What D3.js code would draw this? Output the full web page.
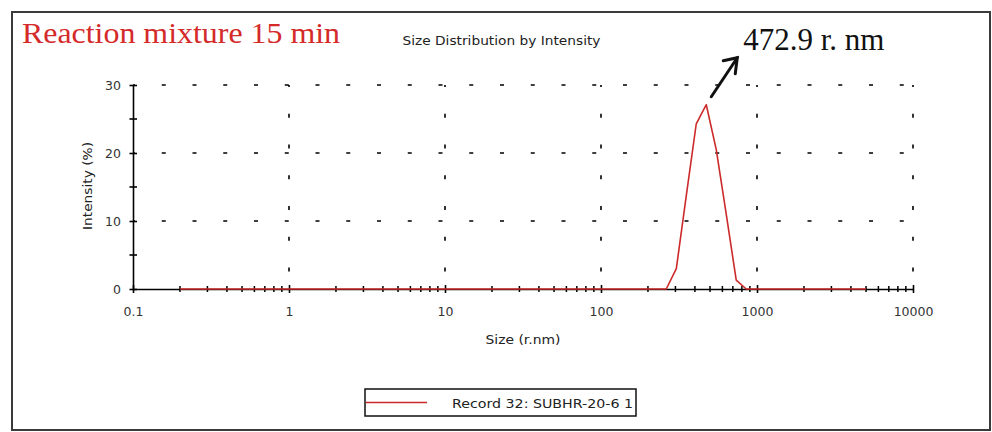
<!DOCTYPE html>
<html>
<head>
<meta charset="utf-8">
<script src="https://cdn.jsdelivr.net/npm/d3@7"></script>
<style>
  html, body { margin: 0; padding: 0; background: #fff; }
  svg { display: block; }
</style>
</head>
<body>
<svg id="chart" width="992" height="432"></svg>
<script>
// Size classes (r.nm) and intensity (%) of the measured record
const sizes = [0.2, 262, 304, 352, 408, 472.9, 548, 635, 736, 853, 5000];
const intensity = [0, 0, 3.0, 13.7, 24.3, 27.1, 20.5, 11.0, 1.3, 0, 0];

// Axis ticks
const xMajorTicks = [0.1, 1, 10, 100, 1000, 10000];
const xTickLabels = ["0.1", "1", "10", "100", "1000", "10000"];
const yMajorTicks = [0, 10, 20, 30];
const yTickLabels = ["0", "10", "20", "30"];
const yMinorTicks = [5, 15, 25];
const xGridValues = [1, 10, 100, 1000, 10000];
const yGridValues = [10, 20, 30];

// Annotation of the peak
const peakSize = 472.9;
const peakLabel = "472.9 r. nm";

const seriesName = "Record 32: SUBHR-20-6 1";
const lineColor = "#cc2a2a";

const svg = d3.select("#chart");
const sans = "'DejaVu Sans', sans-serif";
const serif = "'Liberation Serif', 'Times New Roman', serif";

// outer frame
svg.append("rect")
  .attr("x", 12).attr("y", 12).attr("width", 978).attr("height", 418)
  .attr("fill", "#fff").attr("stroke", "#3a3a3a").attr("stroke-width", 2);

const x = d3.scaleLog().domain([0.1, 10000]).range([133, 913]);
const y = d3.scaleLinear().domain([0, 30]).range([289, 85]);

// minor x ticks 2..9 within each decade
const xMinorTicks = [];
xMajorTicks.slice(0, -1).forEach(d => {
  [2, 3, 4, 5, 6, 7, 8, 9].forEach(m => xMinorTicks.push(+(d * m).toPrecision(3)));
});

// dotted grid
const dash = "4,26.75";
svg.append("g").selectAll("line").data(xGridValues).join("line")
  .attr("x1", d => x(d)).attr("x2", d => x(d))
  .attr("y1", y(30)).attr("y2", y(0))
  .attr("stroke", "#000").attr("stroke-width", 1.6)
  .attr("stroke-dasharray", dash).attr("stroke-dashoffset", 2);
svg.append("g").selectAll("line").data(yGridValues).join("line")
  .attr("x1", x(0.1)).attr("x2", x(10000))
  .attr("y1", d => y(d)).attr("y2", d => y(d))
  .attr("stroke", "#000").attr("stroke-width", 1.6)
  .attr("stroke-dasharray", dash).attr("stroke-dashoffset", 2);

// x axis
const xAxis = svg.append("g").attr("transform", `translate(0,${y(0)})`)
  .call(d3.axisBottom(x).tickValues(xMajorTicks)
    .tickFormat((d, i) => xTickLabels[i]).tickSizeOuter(0).tickPadding(12));
xAxis.select(".domain").attr("stroke", "#000").attr("stroke-width", 1.6);
xAxis.selectAll(".tick line").attr("y1", -4).attr("y2", 4)
  .attr("stroke", "#000").attr("stroke-width", 1.6);
xAxis.selectAll(".tick text").attr("font-family", sans).attr("font-size", 12.5)
  .attr("fill", "#333");
svg.append("g").selectAll("line").data(xMinorTicks).join("line")
  .attr("x1", d => x(d)).attr("x2", d => x(d))
  .attr("y1", y(0) - 3).attr("y2", y(0) + 3)
  .attr("stroke", "#000").attr("stroke-width", 1.5);

// y axis
const yAxis = svg.append("g").attr("transform", `translate(${x(0.1)},0)`)
  .call(d3.axisLeft(y).tickValues(yMajorTicks)
    .tickFormat((d, i) => yTickLabels[i]).tickSizeOuter(0).tickPadding(6));
yAxis.select(".domain").attr("stroke", "#000").attr("stroke-width", 1.6);
yAxis.selectAll(".tick line").attr("x1", -3.5).attr("x2", 4)
  .attr("stroke", "#000").attr("stroke-width", 1.6);
yAxis.selectAll(".tick text").attr("font-family", sans).attr("font-size", 12.5)
  .attr("fill", "#333");
svg.append("g").selectAll("line").data(yMinorTicks).join("line")
  .attr("x1", x(0.1) - 3.5).attr("x2", x(0.1) + 4)
  .attr("y1", d => y(d)).attr("y2", d => y(d))
  .attr("stroke", "#000").attr("stroke-width", 1.6);

// distribution curve
const points = sizes.map((s, i) => [s, intensity[i]]);
svg.append("path").datum(points)
  .attr("fill", "none").attr("stroke", lineColor).attr("stroke-width", 1.6)
  .attr("stroke-linejoin", "round")
  .attr("d", d3.line().x(d => x(d[0])).y(d => y(d[1])));

// titles
svg.append("text").attr("x", 22).attr("y", 43)
  .attr("font-family", serif).attr("font-size", 30).attr("fill", "#d42a2a")
  .attr("textLength", 318).attr("lengthAdjust", "spacingAndGlyphs")
  .text("Reaction mixture 15 min");
svg.append("text").attr("x", 501.5).attr("y", 45).attr("text-anchor", "middle")
  .attr("font-family", sans).attr("font-size", 12.5).attr("fill", "#222")
  .attr("textLength", 198).attr("lengthAdjust", "spacingAndGlyphs")
  .text("Size Distribution by Intensity");

// axis titles
svg.append("text").attr("x", (x(0.1) + x(10000)) / 2).attr("y", 344)
  .attr("text-anchor", "middle").attr("font-family", sans).attr("font-size", 12.5)
  .attr("fill", "#222").attr("textLength", 75).attr("lengthAdjust", "spacingAndGlyphs")
  .text("Size (r.nm)");
svg.append("text").attr("transform", "translate(92,186) rotate(-90)")
  .attr("text-anchor", "middle").attr("font-family", sans).attr("font-size", 12.5)
  .attr("fill", "#222").attr("textLength", 88).attr("lengthAdjust", "spacingAndGlyphs")
  .text("Intensity (%)");

// peak annotation: arrow from above the peak to the label
const peakVal = intensity[sizes.indexOf(peakSize)];
const ax0 = x(peakSize) + 5, ay0 = y(peakVal) - 8;
const ax1 = ax0 + 26, ay1 = ay0 - 39;
svg.append("line").attr("x1", ax0).attr("y1", ay0).attr("x2", ax1).attr("y2", ay1)
  .attr("stroke", "#111").attr("stroke-width", 3).attr("stroke-linecap", "round");
svg.append("polyline")
  .attr("points", `${ax1 - 14},${ay1 + 3} ${ax1},${ay1} ${ax1 - 2},${ay1 + 16}`)
  .attr("fill", "none").attr("stroke", "#111").attr("stroke-width", 3)
  .attr("stroke-linejoin", "miter").attr("stroke-linecap", "round");
svg.append("text").attr("x", ax1 + 6).attr("y", 50)
  .attr("font-family", serif).attr("font-size", 31).attr("fill", "#111")
  .text(peakLabel);

// legend
const lg = svg.append("g");
lg.append("rect").attr("x", 365).attr("y", 389).attr("width", 271).attr("height", 27)
  .attr("fill", "#fff").attr("stroke", "#111").attr("stroke-width", 1.5);
lg.append("line").attr("x1", 366).attr("x2", 427).attr("y1", 402.5).attr("y2", 402.5)
  .attr("stroke", lineColor).attr("stroke-width", 1.6);
lg.append("text").attr("x", 452).attr("y", 407.5)
  .attr("font-family", sans).attr("font-size", 12.5).attr("fill", "#222")
  .attr("textLength", 181).attr("lengthAdjust", "spacingAndGlyphs")
  .text(seriesName);
</script>
</body>
</html>
